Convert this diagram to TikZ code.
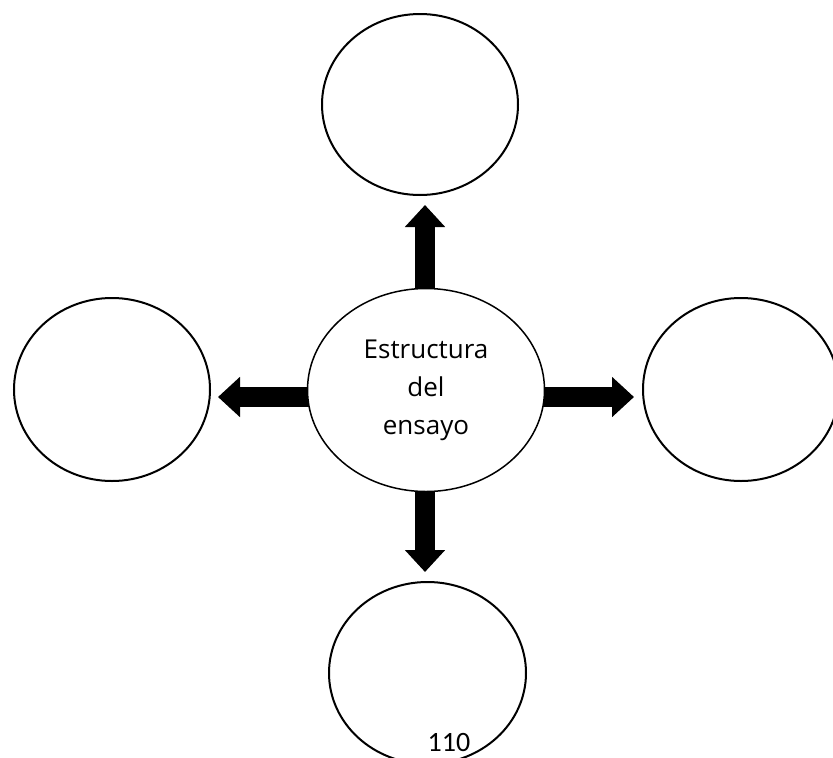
\documentclass[tikz,border=0pt]{standalone}
\usepackage{fontspec}
\setmainfont{Open Sans}
\newfontfamily\calib{Carlito}
\usetikzlibrary{shapes.geometric,arrows.meta,backgrounds}
\begin{document}
\begin{tikzpicture}[x=1pt,y=-1pt,
  bubble/.style={ellipse,draw=black,line width=2pt,fill=white,inner sep=0pt},
  fatarrow/.style={line width=20pt,-{Triangle[width=39pt,length=22pt]}}]
\useasboundingbox (0,0) rectangle (833,758);
\node[bubble,minimum width=196pt,minimum height=181pt] (top) at (420,104.5) {};
\node[bubble,minimum width=196pt,minimum height=183pt] (left) at (112,389.5) {};
\node[bubble,minimum width=196pt,minimum height=183pt] (right) at (741,389.5) {};
\node[bubble,minimum width=197pt,minimum height=182pt] (bottom) at (427.5,673) {};
\node[bubble,line width=1.5pt,minimum width=237pt,minimum height=203pt,align=center,
      font=\fontsize{26}{38}\selectfont] (c) at (426,390) {Estructura\\del\\ensayo};
\node[font=\calib\fontsize{28}{30}\selectfont,anchor=base,inner sep=0pt] (pg) at (449,751) {110};
\coordinate (cv) at ([xshift=-1pt]c.center);
\coordinate (ch) at ([yshift=-7pt]c.center);
\begin{scope}[on background layer]
  \draw[fatarrow,shorten >=9pt] (cv) -- (cv |- top.south);
  \draw[fatarrow,shorten >=9pt] (cv) -- (cv |- bottom.north);
  \draw[fatarrow,shorten >=7pt] (ch) -- (ch -| left.east);
  \draw[fatarrow,shorten >=8pt] (ch) -- (ch -| right.west);
\end{scope}
\end{tikzpicture}
\end{document}
